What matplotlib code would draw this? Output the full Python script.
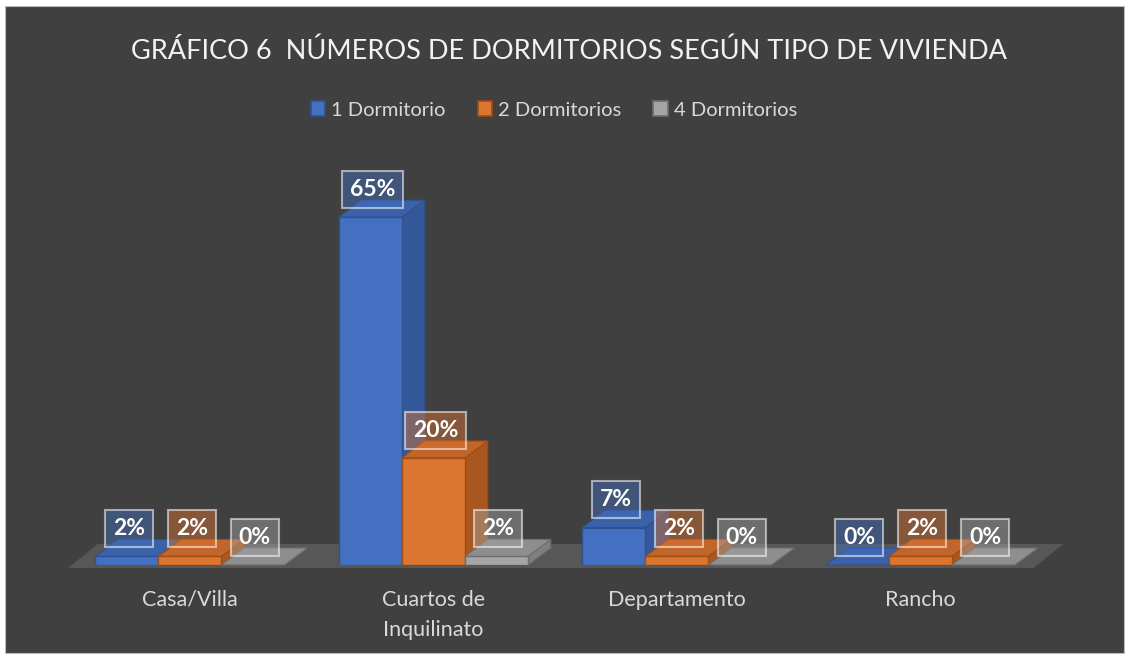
import matplotlib
matplotlib.use("Agg")
import matplotlib.pyplot as plt
from matplotlib.patches import Polygon, Rectangle, Patch
from matplotlib.colors import to_rgba

# ---------------- data ----------------
categories = ["Casa/Villa", "Cuartos de\nInquilinato", "Departamento", "Rancho"]
series_names = ["1 Dormitorio", "2 Dormitorios", "4 Dormitorios"]
dorm1 = [1.6, 65, 7, 0]
dorm2 = [1.6, 20, 1.6, 1.6]
dorm4 = [0, 1.6, 0, 0]
title = "GRÁFICO 6  NÚMEROS DE DORMITORIOS SEGÚN TIPO DE VIVIENDA"

series = [dorm1, dorm2, dorm4]
front_c = ["#4370C0", "#DC752F", "#A5A5A5"]
side_c = ["#34589A", "#A9561F", "#7F7F7F"]
top_c = ["#3B62A8", "#C1652A", "#8E8E8E"]
edge_c = ["#2F528F", "#9E4D14", "#6E6E6E"]

W, H = 1130, 659
fig = plt.figure(figsize=(W / 100, H / 100), dpi=100, facecolor="white")
fig.patches.append(Rectangle((5 / W, 6 / H), 1119 / W, 647 / H, transform=fig.transFigure,
                             facecolor="#404040", edgecolor="#bdbdbd", lw=0.8, zorder=-5))

ax_l, ax_b, ax_w, ax_h = 68, 94, 974, 428
ax = fig.add_axes([ax_l / W, ax_b / H, ax_w / W, ax_h / H])
ax.set_zorder(2)
ax.set_xlim(-0.5, len(categories) - 0.5)
ax.set_ylim(0, 80)
ax.patch.set_alpha(0)
for s in ax.spines.values():
    s.set_visible(False)
ax.set_yticks([])

px_x = ax_w / (len(categories))
px_y = ax_h / 80.0
ddx, ddy = 23 / px_x, 17 / px_y
bw = 63 / px_x

# floor
fy = -3 / px_y
x_lo, x_hi = ax.get_xlim()
floor = Polygon([(x_lo, fy), (x_hi - 0.035, fy), (x_hi - 0.035 + 30 / px_x, fy + 24 / px_y),
                 (x_lo + 30 / px_x, fy + 24 / px_y)], closed=True,
                facecolor="#575757", edgecolor="none", zorder=1, clip_on=False)
ax.add_patch(floor)

font = "Lato"
z = 2.0
for i in range(len(categories)):
    for j, vals in enumerate(series):
        h = vals[i]
        xc = i + (j - 1) * bw
        x0, x1 = xc - bw / 2, xc + bw / 2
        side = Polygon([(x1, 0), (x1 + ddx, ddy), (x1 + ddx, h + ddy), (x1, h)], closed=True,
                       facecolor=side_c[j], edgecolor=edge_c[j], lw=0.8, zorder=z, clip_on=False)
        top = Polygon([(x0, h), (x1, h), (x1 + ddx, h + ddy), (x0 + ddx, h + ddy)], closed=True,
                      facecolor=top_c[j], edgecolor=edge_c[j], lw=0.8, zorder=z + 0.001, clip_on=False)
        ax.add_patch(side)
        ax.add_patch(top)
        ax.bar(xc, h, bw, color=front_c[j], edgecolor=edge_c[j], lw=1.0, zorder=z + 0.002)
        z += 0.01
        fc = to_rgba(front_c[j], 0.45)
        ax.annotate(f"{h:.0f}%", xy=(xc, h), xytext=(1.5, 20), textcoords="offset points",
                    ha="center", va="center", color="white", fontweight="bold", fontsize=16.5,
                    family=font, zorder=10,
                    bbox=dict(boxstyle="square,pad=0.35", fc=fc, ec=(1, 1, 1, 0.55), lw=1.5))

ax.set_xticks(range(len(categories)), categories)
ax.tick_params(axis="x", length=0, pad=18, colors="#d9d9d9", labelsize=15.5)
for t in ax.get_xticklabels():
    t.set_family(font)
    t.set_linespacing(1.6)

fig.text(569 / W, 1 - 51 / H, title, ha="center", va="center", color="#f2f2f2",
         fontsize=19.5, family=font)

handles = [Patch(facecolor=front_c[j], edgecolor=edge_c[j], lw=1.2, label=series_names[j])
           for j in range(3)]
fig.legend(handles=handles, loc="center", bbox_to_anchor=(554 / W, 1 - 110 / H), ncol=3,
           frameon=False, labelcolor="#d9d9d9", prop={"family": font, "size": 14.5},
           handlelength=0.7, handleheight=0.7, columnspacing=1.6, handletextpad=0.3)

fig.savefig("out.png", dpi=100, facecolor="white")
